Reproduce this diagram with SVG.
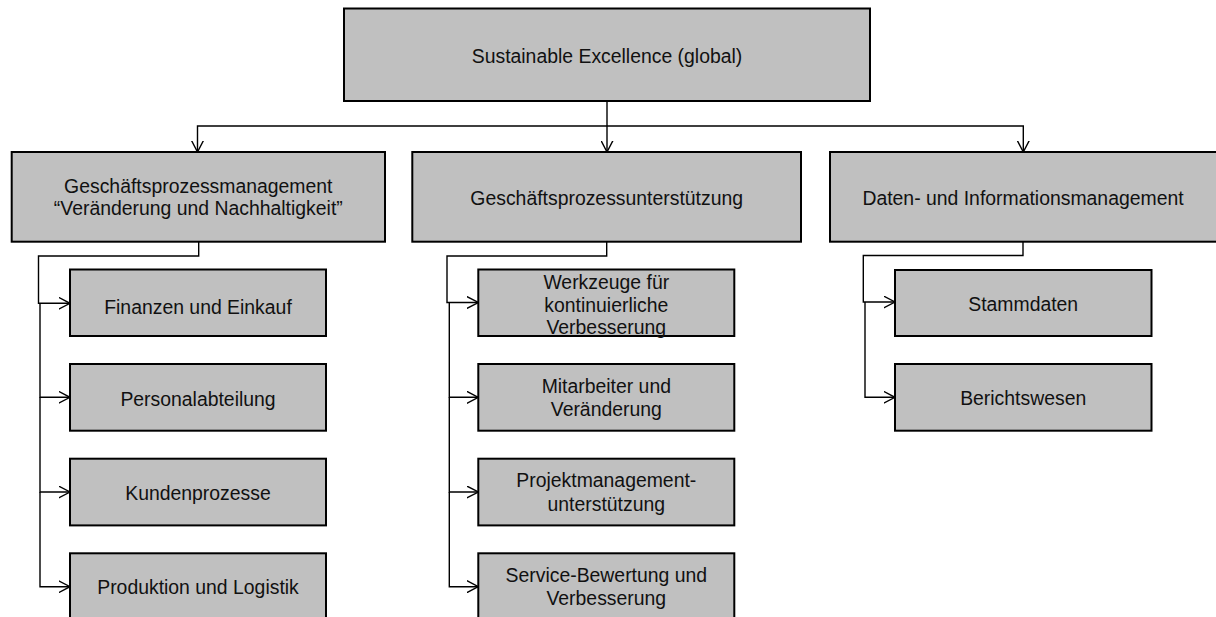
<svg xmlns="http://www.w3.org/2000/svg" width="1216" height="617" viewBox="0 0 1216 617">
  <style>
    .box { fill: #c0c0c0; stroke: #000; stroke-width: 2; }
    .lbl { font-family: "Liberation Sans", Arial, sans-serif; font-size: 19.4px; fill: #111; text-anchor: middle; }
    .wire { fill: none; stroke: #000; stroke-width: 1.4; }
  </style>
  <defs>
    <marker id="arrow" viewBox="0 0 12 13" refX="11.5" refY="6.5" markerWidth="12" markerHeight="13" markerUnits="userSpaceOnUse" orient="auto">
      <path d="M0,0.5 L11.5,6.5 L0,12.5" fill="none" stroke="#000" stroke-width="1.4"/>
    </marker>
  </defs>

  <rect width="1216" height="617" fill="#fff"/>

  <!-- connectors -->
  <g id="connectors">
    <path class="wire" d="M607,101 V126" stroke-width="2.2"/>
    <path class="wire" d="M607,126 H197.5 V152" marker-end="url(#arrow)"/>
    <path class="wire" d="M607,126 V152" marker-end="url(#arrow)"/>
    <path class="wire" d="M607,126 H1023.3 V152" marker-end="url(#arrow)"/>

    <!-- left column -->
    <path class="wire" d="M198.7,242 V256 H38.5 V303.3 H70" marker-end="url(#arrow)"/>
    <path class="wire" d="M40,303.3 V397.3 H70" marker-end="url(#arrow)"/>
    <path class="wire" d="M40,397.3 V492 H70" marker-end="url(#arrow)"/>
    <path class="wire" d="M40,492 V586.7 H70" marker-end="url(#arrow)"/>

    <!-- middle column -->
    <path class="wire" d="M606.7,242 V256 H447 V302.5 H478.3" marker-end="url(#arrow)"/>
    <path class="wire" d="M449.3,302.5 V397.3 H478.3" marker-end="url(#arrow)"/>
    <path class="wire" d="M449.3,397.3 V492 H478.3" marker-end="url(#arrow)"/>
    <path class="wire" d="M449.3,492 V586.7 H478.3" marker-end="url(#arrow)"/>

    <!-- right column -->
    <path class="wire" d="M1023,242 V255.5 H863.3 V302 H895" marker-end="url(#arrow)"/>
    <path class="wire" d="M865,302 V397.3 H895" marker-end="url(#arrow)"/>
  </g>

  <!-- root -->
  <g id="root">
    <rect class="box" x="344" y="8.5" width="526" height="92.5"/>
    <text class="lbl" x="607" y="62.5">Sustainable Excellence (global)</text>
  </g>

  <!-- second level -->
  <g id="gpm">
    <rect class="box" x="11.7" y="152" width="373.3" height="89.7"/>
    <text class="lbl" x="198.3" y="193.3">Geschäftsprozessmanagement</text>
    <text class="lbl" x="198.3" y="215.3">“Veränderung und Nachhaltigkeit”</text>
  </g>
  <g id="gpu">
    <rect class="box" x="412.3" y="152" width="388.7" height="89.7"/>
    <text class="lbl" x="606.7" y="204.5">Geschäftsprozessunterstützung</text>
  </g>
  <g id="dim">
    <rect class="box" x="830" y="152" width="388" height="89.7"/>
    <text class="lbl" x="1023" y="204.5">Daten- und Informationsmanagement</text>
  </g>

  <!-- left column children -->
  <g id="finanzen">
    <rect class="box" x="70" y="269.5" width="256" height="66.5"/>
    <text class="lbl" x="198" y="313.5">Finanzen und Einkauf</text>
  </g>
  <g id="personal">
    <rect class="box" x="70" y="364" width="256" height="66.7"/>
    <text class="lbl" x="198" y="405.5">Personalabteilung</text>
  </g>
  <g id="kunden">
    <rect class="box" x="70" y="458.7" width="256" height="66.7"/>
    <text class="lbl" x="198" y="499.5">Kundenprozesse</text>
  </g>
  <g id="produktion">
    <rect class="box" x="70" y="553.3" width="256" height="70"/>
    <text class="lbl" x="198" y="594">Produktion und Logistik</text>
  </g>

  <!-- middle column children -->
  <g id="werkzeuge">
    <rect class="box" x="478.3" y="269.5" width="256" height="66.5"/>
    <text class="lbl" x="606.3" y="288.5">Werkzeuge für</text>
    <text class="lbl" x="606.3" y="311.5">kontinuierliche</text>
    <text class="lbl" x="606.3" y="333.8">Verbesserung</text>
  </g>
  <g id="mitarbeiter">
    <rect class="box" x="478.3" y="364" width="256" height="66.7"/>
    <text class="lbl" x="606.3" y="392.6">Mitarbeiter und</text>
    <text class="lbl" x="606.3" y="416">Veränderung</text>
  </g>
  <g id="projekt">
    <rect class="box" x="478.3" y="458.7" width="256" height="66.7"/>
    <text class="lbl" x="606.3" y="487.3">Projektmanagement-</text>
    <text class="lbl" x="606.3" y="510.5">unterstützung</text>
  </g>
  <g id="service">
    <rect class="box" x="478.3" y="553.3" width="256" height="70"/>
    <text class="lbl" x="606.3" y="581.7">Service-Bewertung und</text>
    <text class="lbl" x="606.3" y="605">Verbesserung</text>
  </g>

  <!-- right column children -->
  <g id="stammdaten">
    <rect class="box" x="895" y="270" width="256.5" height="66"/>
    <text class="lbl" x="1023.2" y="310.5">Stammdaten</text>
  </g>
  <g id="berichtswesen">
    <rect class="box" x="895" y="364" width="256.5" height="66.7"/>
    <text class="lbl" x="1023.2" y="405.3">Berichtswesen</text>
  </g>
</svg>
